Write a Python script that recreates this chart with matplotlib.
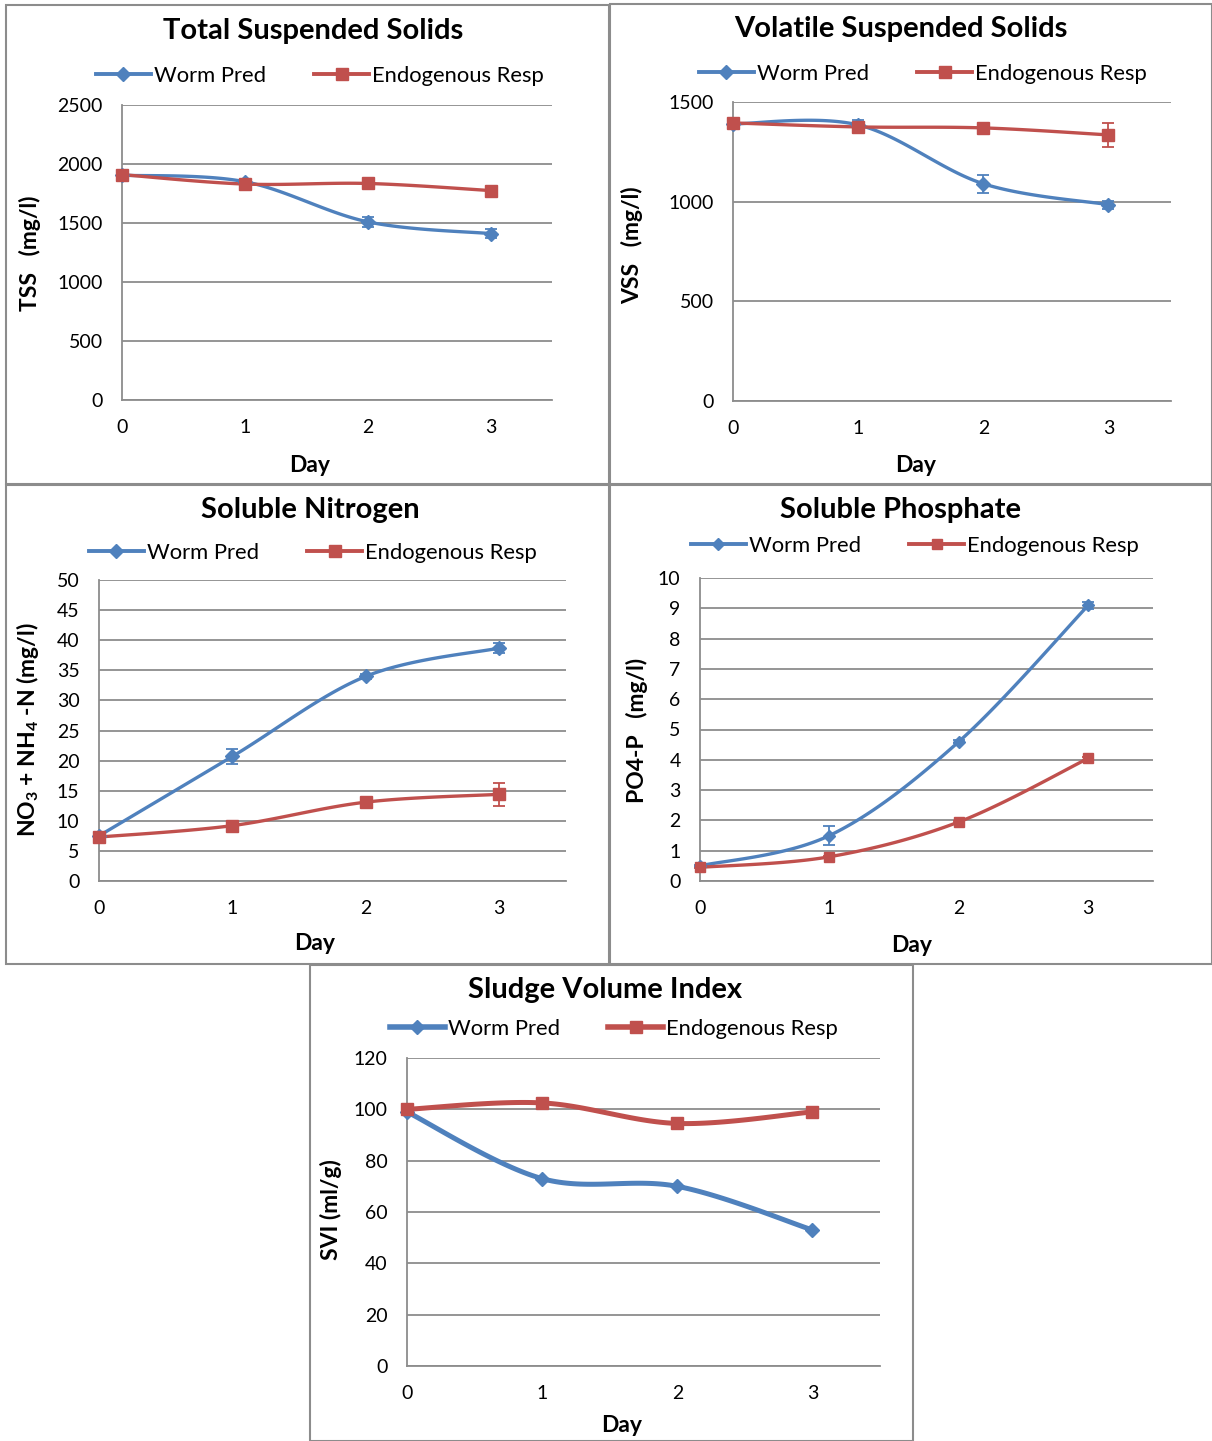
import numpy as np
import matplotlib
matplotlib.use('Agg')
import matplotlib.pyplot as plt
from matplotlib.patches import Rectangle

plt.rcParams['font.family'] = ['Lato', 'DejaVu Sans']
plt.rcParams['mathtext.fontset'] = 'custom'
plt.rcParams['mathtext.rm'] = 'Lato:bold'
plt.rcParams['mathtext.it'] = 'Lato:bold'
plt.rcParams['mathtext.bf'] = 'Lato:bold'

W, H = 1212, 1441
BLUE = '#4F81BD'
RED = '#C0504D'
GRID = '#8C8C8C'

days = [0, 1, 2, 3]

# Total suspended solids
tss_worm = [1905, 1850, 1510, 1410]
tss_worm_err = [10, 15, 45, 35]
tss_endo = [1910, 1830, 1835, 1775]
tss_endo_err = [10, 10, 10, 10]

# Volatile suspended solids
vss_worm = [1390, 1385, 1090, 985]
vss_worm_err = [10, 25, 45, 20]
vss_endo = [1395, 1375, 1370, 1335]
vss_endo_err = [10, 10, 10, 60]

# Soluble nitrogen
n_worm = [7.5, 20.7, 34.0, 38.7]
n_worm_err = [0.2, 1.2, 0.4, 0.9]
n_endo = [7.3, 9.2, 13.1, 14.4]
n_endo_err = [0.2, 0.3, 0.3, 1.9]

# Soluble phosphate
p_worm = [0.5, 1.5, 4.6, 9.1]
p_worm_err = [0.02, 0.3, 0.05, 0.12]
p_endo = [0.45, 0.8, 1.95, 4.05]
p_endo_err = [0.02, 0.03, 0.04, 0.05]

# Sludge volume index
svi_worm = [99, 73, 70, 53]
svi_endo = [100, 102.5, 94.5, 99]

TITLE_FS = 21
LEG_FS = 15.8
TICK_FS = 14
LAB_FS = 16.5


def px_axes(fig, left, right, top, bottom):
    return fig.add_axes([left / W, 1 - bottom / H, (right - left) / W, (bottom - top) / H])


def smooth(x, y, n=40):
    # Excel style smoothed line (Bezier through points)
    p = np.column_stack([x, y]).astype(float)
    pts = np.vstack([p[0], p, p[-1]])
    out = []
    t = np.linspace(0, 1, n)[:, None]
    for i in range(1, len(pts) - 2):
        p0, p1, p2, p3 = pts[i - 1], pts[i], pts[i + 1], pts[i + 2]
        c1 = p1 + (p2 - p0) / 6
        c2 = p2 - (p3 - p1) / 6
        seg = ((1 - t) ** 3) * p1 + 3 * ((1 - t) ** 2) * t * c1 + 3 * (1 - t) * t ** 2 * c2 + t ** 3 * p2
        out.append(seg)
    out = np.vstack(out)
    return out[:, 0], out[:, 1]


def panel(fig, box, ylim, yticks, worm, endo, worm_err=None, endo_err=None, lw=2.4, ms=(7, 8)):
    ax = px_axes(fig, *box)
    ax.set_xlim(0, 3.5)
    ax.set_ylim(*ylim)
    ax.set_yticks(yticks)
    ax.set_xticks(days)
    ax.yaxis.grid(True, color=GRID, lw=1.3)
    ax.set_axisbelow(True)
    for s in ['top', 'right']:
        ax.spines[s].set_visible(False)
    for s in ['left', 'bottom']:
        ax.spines[s].set_color(GRID)
        ax.spines[s].set_linewidth(1.3)
    ax.tick_params(length=0, labelsize=TICK_FS)
    ax.tick_params(axis='y', pad=14)
    ax.tick_params(axis='x', pad=14)

    for vals, err, col, mk, size, lab in [(worm, worm_err, BLUE, 'D', ms[0], 'Worm Pred'),
                                          (endo, endo_err, RED, 's', ms[1], 'Endogenous Resp')]:
        sx, sy = smooth(days, vals)
        ax.plot(sx, sy, color=col, lw=lw, solid_capstyle='round', clip_on=False, zorder=3)
        if err is not None:
            ax.errorbar(days, vals, yerr=err, fmt='none', ecolor=col, elinewidth=1.3,
                        capsize=4.5, capthick=1.3, zorder=4, clip_on=False)
        ax.plot(days, vals, ls='none', marker=mk, color=col, ms=size, zorder=5, clip_on=False)
        ax.plot([], [], color=col, lw=lw + 0.4, marker=mk, ms=size, label=lab)
    return ax


def fig_text(fig, x, y, s, **kw):
    fig.text(x / W, 1 - y / H, s, ha='center', va='center', **kw)


def add_legend(fig, ax, x, y):
    leg = ax.legend(loc='center', bbox_to_anchor=(x / W, 1 - y / H), bbox_transform=fig.transFigure,
                    ncol=2, frameon=False, fontsize=LEG_FS, handlelength=2.5, handletextpad=0.15,
                    columnspacing=2.2, borderpad=0)
    return leg


fig = plt.figure(figsize=(W / 100, H / 100), dpi=100)

# panel frames
for (x0, y0, x1, y1) in [(6, 5, 609, 484), (610, 4, 1212, 484), (6, 485, 609, 964),
                         (610, 485, 1212, 964), (310, 965, 913, 1441)]:
    fig.patches.append(Rectangle((x0 / W, 1 - y1 / H), (x1 - x0) / W, (y1 - y0) / H,
                                 transform=fig.transFigure, fill=False, edgecolor='#8C8C8C', lw=1.5))

ax1 = panel(fig, (122, 552, 105, 400), (0, 2500), range(0, 2501, 500), tss_worm, tss_endo, tss_worm_err, tss_endo_err)
fig_text(fig, 313, 31, 'Total Suspended Solids', fontsize=TITLE_FS, fontweight='bold')
add_legend(fig, ax1, 320, 76)
fig_text(fig, 30, 253, 'TSS   (mg/l)', fontsize=LAB_FS, fontweight='bold', rotation=90)
fig_text(fig, 310, 465, 'Day', fontsize=LAB_FS, fontweight='bold')

ax2 = panel(fig, (733, 1171, 102, 401), (0, 1500), range(0, 1501, 500), vss_worm, vss_endo, vss_worm_err, vss_endo_err)
fig_text(fig, 901, 29, 'Volatile Suspended Solids', fontsize=TITLE_FS, fontweight='bold')
add_legend(fig, ax2, 923, 74)
fig_text(fig, 632, 245, 'VSS   (mg/l)', fontsize=LAB_FS, fontweight='bold', rotation=90)
fig_text(fig, 916, 465, 'Day', fontsize=LAB_FS, fontweight='bold')

ax3 = panel(fig, (99, 566, 580, 881), (0, 50), range(0, 51, 5), n_worm, n_endo, n_worm_err, n_endo_err)
fig_text(fig, 310, 510, 'Soluble Nitrogen', fontsize=TITLE_FS, fontweight='bold')
add_legend(fig, ax3, 313, 553)
fig_text(fig, 28, 730, r'NO$_3$ + NH$_4$ -N (mg/l)', fontsize=LAB_FS, fontweight='bold', rotation=90)
fig_text(fig, 315, 943, 'Day', fontsize=LAB_FS, fontweight='bold')

ax4 = panel(fig, (700, 1153, 578, 881), (0, 10), range(0, 11), p_worm, p_endo, p_worm_err, p_endo_err,
            ms=(6, 7))
fig_text(fig, 901, 510, 'Soluble Phosphate', fontsize=TITLE_FS, fontweight='bold')
add_legend(fig, ax4, 915, 546)
fig_text(fig, 637, 730, 'PO4-P   (mg/l)', fontsize=LAB_FS, fontweight='bold', rotation=90)
fig_text(fig, 912, 945, 'Day', fontsize=LAB_FS, fontweight='bold')

ax5 = panel(fig, (407, 880, 1058, 1366), (0, 120), range(0, 121, 20), svi_worm, svi_endo,
            lw=3.6, ms=(7, 9))
fig_text(fig, 605, 990, 'Sludge Volume Index', fontsize=TITLE_FS, fontweight='bold')
add_legend(fig, ax5, 614, 1029)
fig_text(fig, 331, 1210, 'SVI (ml/g)', fontsize=LAB_FS, fontweight='bold', rotation=90)
fig_text(fig, 622, 1425, 'Day', fontsize=LAB_FS, fontweight='bold')

fig.savefig('out.png', dpi=100, facecolor='white')
